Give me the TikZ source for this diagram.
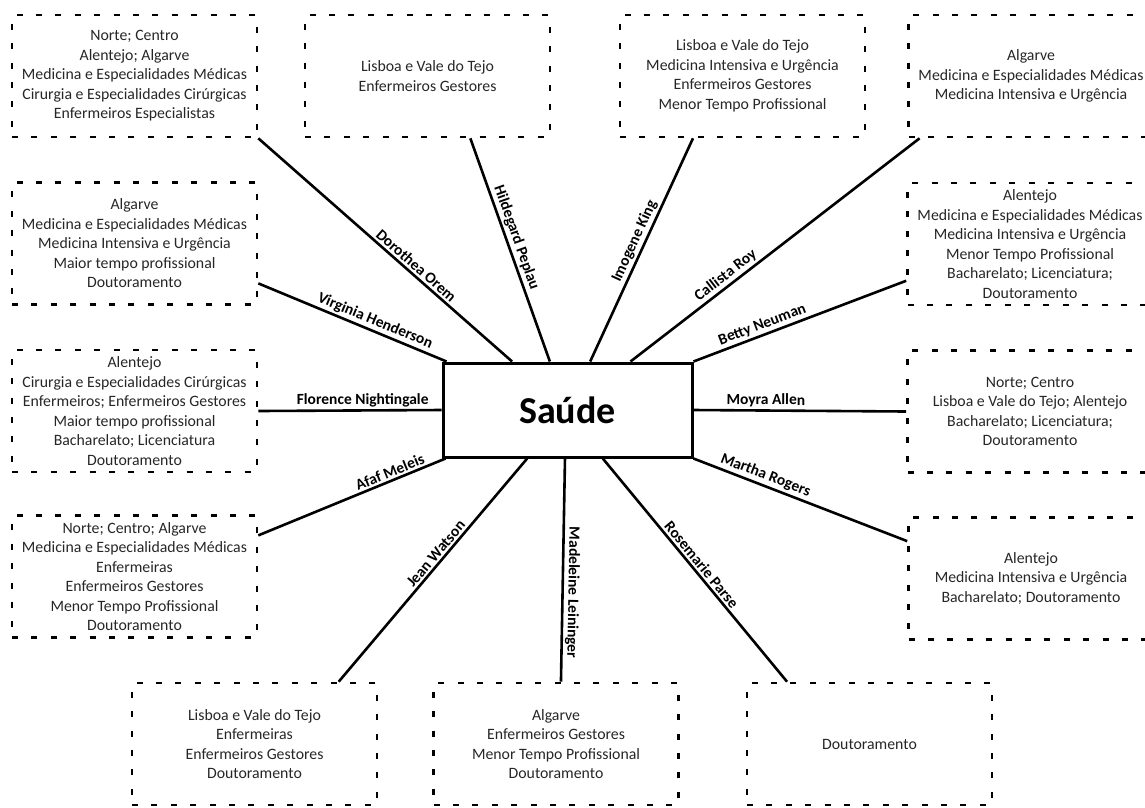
\documentclass[tikz,border=0pt]{standalone}
\usepackage{fontspec}
\setmainfont{Carlito}
\usetikzlibrary{calc}
\begin{document}
\begin{tikzpicture}[x=1pt,y=-1pt,
  infobox/.style={draw, line width=2.6pt, dash pattern=on 6pt off 13.4pt,
    minimum width=245pt, minimum height=122pt, align=center, inner sep=2pt,
    text=black!85, font=\fontsize{15.8}{19.5}\selectfont},
  hub/.style={draw, line width=3pt, minimum width=249pt, minimum height=94pt,
    inner sep=0pt, font=\bfseries\fontsize{38}{40}\selectfont},
  link/.style={line width=2.6pt},
  tag/.style={sloped, above, inner sep=2pt, font=\bfseries\fontsize{15.5}{17}\selectfont}]

\useasboundingbox (0,0) rectangle (1145,807);
\clip (0,0) rectangle (1145,807);

% central concept
\node[hub] (S) at (567.5,410) {Saúde};

% surrounding profile boxes
\node[infobox] (A) at (134.5,76) {Norte; Centro\\Alentejo; Algarve\\Medicina e Especialidades Médicas\\Cirurgia e Especialidades Cirúrgicas\\Enfermeiros Especialistas};
\node[infobox] (B) at (427.5,76) {Lisboa e Vale do Tejo\\Enfermeiros Gestores};
\node[infobox] (C) at (742.5,76) {Lisboa e Vale do Tejo\\Medicina Intensiva e Urgência\\Enfermeiros Gestores\\Menor Tempo Profissional};
\node[infobox] (D) at (1031,76) {Algarve\\Medicina e Especialidades Médicas\\Medicina Intensiva e Urgência};
\node[infobox] (E) at (134.5,243.5) {Algarve\\Medicina e Especialidades Médicas\\Medicina Intensiva e Urgência\\Maior tempo profissional\\Doutoramento};
\node[infobox] (F) at (1030,244) {Alentejo\\Medicina e Especialidades Médicas\\Medicina Intensiva e Urgência\\Menor Tempo Profissional\\Bacharelato; Licenciatura;\\Doutoramento};
\node[infobox] (G) at (134.5,411) {Alentejo\\Cirurgia e Especialidades Cirúrgicas\\Enfermeiros; Enfermeiros Gestores\\Maior tempo profissional\\Bacharelato; Licenciatura\\Doutoramento};
\node[infobox] (H) at (1030,411.5) {Norte; Centro\\Lisboa e Vale do Tejo; Alentejo\\Bacharelato; Licenciatura;\\Doutoramento};
\node[infobox] (I) at (134.5,576.5) {Norte; Centro; Algarve\\Medicina e Especialidades Médicas\\Enfermeiras\\Enfermeiros Gestores\\Menor Tempo Profissional\\Doutoramento};
\node[infobox] (M) at (1031,578.5) {Alentejo\\Medicina Intensiva e Urgência\\Bacharelato; Doutoramento};
\node[infobox] (J) at (254.5,744) {Lisboa e Vale do Tejo\\Enfermeiras\\Enfermeiros Gestores\\Doutoramento};
\node[infobox] (K) at (556,744) {Algarve\\Enfermeiros Gestores\\Menor Tempo Profissional\\Doutoramento};
\node[infobox] (L) at (869.5,744) {Doutoramento};

% theorist connectors
\draw[link] ($(S.north west)!0.28!(S.north east)$) -- (A.south east)
  node[tag, pos=0.40] {Dorothea Orem};
\draw[link] ($(S.north west)!0.02!(S.north east)$) -- ($(E.north east)!0.82!(E.south east)$)
  node[tag, pos=0.40] {Virginia Henderson};
\draw[link] ($(S.north west)!0.43!(S.north east)$) -- ($(B.south west)!0.673!(B.south east)$)
  node[tag, pos=0.54] {Hildegard Peplau};
\draw[link] ($(S.north west)!0.59!(S.north east)$) -- ($(C.south west)!0.30!(C.south east)$)
  node[tag, pos=0.52] {Imogene King};
\draw[link] ($(S.north west)!0.75!(S.north east)$) -- ($(D.south west)!0.05!(D.south east)$)
  node[tag, pos=0.35] {Callista Roy};
\draw[link] (S.north east) -- ($(F.north west)!0.795!(F.south west)$)
  node[tag, pos=0.34] {Betty Neuman};
\draw[link] (S.west) -- (G.east)
  node[tag, pos=0.43] {Florence Nightingale};
\draw[link] (S.east) -- (H.west)
  node[tag, pos=0.34] {Moyra Allen};
\draw[link] ($(S.south west)!0.016!(S.south east)$) -- ($(I.north east)!0.17!(I.south east)$)
  node[tag, pos=0.28] {Afaf Meleis};
\draw[link] ($(S.south west)!0.34!(S.south east)$) -- ($(J.north west)!0.84!(J.north east)$)
  node[tag, pos=0.45] {Jean Watson};
\draw[link] ($(S.south west)!0.49!(S.south east)$) -- ($(K.north west)!0.52!(K.north east)$)
  node[tag, allow upside down, pos=0.60] {Madeleine Leininger};
\draw[link] ($(S.south west)!0.64!(S.south east)$) -- ($(L.north west)!0.167!(L.north east)$)
  node[tag, pos=0.50] {Rosemarie Parse};
\draw[link] (S.south east) -- ($(M.north west)!0.2!(M.south west)$)
  node[tag, pos=0.32] {Martha Rogers};
\end{tikzpicture}
\end{document}
